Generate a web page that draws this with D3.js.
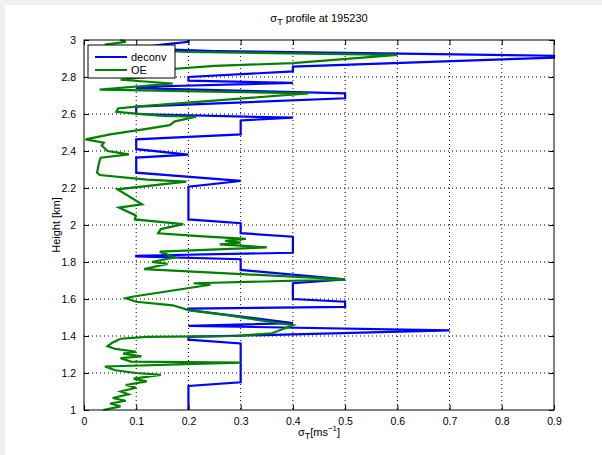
<!DOCTYPE html>
<html>
<head>
<meta charset="utf-8">
<script src="https://cdn.jsdelivr.net/npm/d3@7"></script>
<style>
  html, body { margin: 0; padding: 0; background: #eef0f4; }
  svg { display: block; }
  text { font-family: "Liberation Sans", Arial, Helvetica, sans-serif; fill: #000; }
</style>
</head>
<body>
<svg id="chart" width="602" height="455"></svg>
<script>
// ---- data (height in km, sigma_T in m/s) ----
const deconvHeights = [1.00,1.13,1.15,1.36,1.38,1.395,1.43,1.455,1.47,1.54,1.548,1.557,1.585,1.60,1.685,1.706,1.757,1.815,1.83,1.834,1.85,1.937,1.956,2.01,2.03,2.207,2.238,2.283,2.364,2.38,2.41,2.463,2.49,2.565,2.58,2.60,2.64,2.685,2.712,2.74,2.75,2.768,2.78,2.80,2.83,2.856,2.905,2.915,2.94,2.955,2.975,2.99,3.00];
const deconvValues  = [0.2,0.2,0.3,0.3,0.2,0.2,0.7,0.2,0.4,0.2,0.2,0.5,0.5,0.4,0.4,0.5,0.3,0.3,0.1,0.1,0.4,0.4,0.3,0.3,0.2,0.2,0.3,0.1,0.1,0.2,0.1,0.1,0.3,0.3,0.4,0.1,0.1,0.5,0.5,0.1,0.15,0.4,0.2,0.2,0.4,0.4,0.9,0.9,0.25,0.1,0.15,0.2,0.2];

const oeHeights = [1.00,1.02,1.035,1.05,1.065,1.085,1.10,1.12,1.135,1.155,1.17,1.19,1.20,1.215,1.235,1.256,1.262,1.28,1.29,1.305,1.315,1.33,1.345,1.365,1.385,1.395,1.40,1.415,1.458,1.51,1.54,1.566,1.585,1.604,1.612,1.677,1.685,1.706,1.762,1.79,1.80,1.825,1.856,1.879,1.895,1.905,1.915,1.925,1.94,1.955,1.978,2.005,2.03,2.052,2.094,2.112,2.193,2.234,2.245,2.27,2.283,2.35,2.364,2.382,2.40,2.43,2.445,2.463,2.49,2.52,2.54,2.56,2.585,2.59,2.612,2.63,2.64,2.712,2.732,2.765,2.785,2.80,2.82,2.835,2.86,2.875,2.92,2.935,2.95,2.965,2.975,2.99,3.00];
const oeValues  = [0.037,0.07,0.05,0.08,0.055,0.085,0.07,0.10,0.08,0.12,0.095,0.147,0.10,0.06,0.04,0.30,0.09,0.07,0.11,0.075,0.10,0.06,0.045,0.055,0.07,0.12,0.29,0.36,0.40,0.28,0.20,0.17,0.10,0.08,0.092,0.242,0.21,0.50,0.115,0.16,0.13,0.174,0.145,0.35,0.26,0.30,0.27,0.31,0.22,0.142,0.147,0.19,0.0975,0.099,0.067,0.111,0.064,0.196,0.12,0.03,0.025,0.03,0.032,0.086,0.045,0.034,0.038,0.003,0.05,0.12,0.164,0.174,0.215,0.15,0.062,0.065,0.10,0.43,0.03,0.17,0.07,0.12,0.08,0.13,0.25,0.40,0.60,0.20,0.07,0.05,0.04,0.08,0.07];

const xTickValues = [0,0.1,0.2,0.3,0.4,0.5,0.6,0.7,0.8,0.9];
const xTickLabels = ["0","0.1","0.2","0.3","0.4","0.5","0.6","0.7","0.8","0.9"];
const yTickValues = [1,1.2,1.4,1.6,1.8,2,2.2,2.4,2.6,2.8,3];
const yTickLabels = ["1","1.2","1.4","1.6","1.8","2","2.2","2.4","2.6","2.8","3"];
const seriesNames = ["deconv","OE"];
const seriesColors = ["#0000ff","#008000"];

// ---- layout ----
const svg = d3.select("#chart");
const L = 84, R = 554, T = 40, B = 410;

svg.append("rect").attr("x",5).attr("y",5).attr("width",597).attr("height",450).attr("fill","#ffffff");

const x = d3.scaleLinear().domain([0,0.9]).range([L,R]);
const y = d3.scaleLinear().domain([1,3]).range([B,T]);

// grid
const grid = svg.append("g");
xTickValues.slice(1,-1).forEach(v => {
  grid.append("line").attr("x1",x(v)).attr("x2",x(v)).attr("y1",T).attr("y2",B)
    .attr("stroke","#000").attr("stroke-width",1).attr("stroke-dasharray","1,3");
});
yTickValues.slice(1,-1).forEach(v => {
  grid.append("line").attr("x1",L).attr("x2",R).attr("y1",y(v)).attr("y2",y(v))
    .attr("stroke","#000").attr("stroke-width",1).attr("stroke-dasharray","1,3");
});

// series
const line = d3.line().x(d => x(d[0])).y(d => y(d[1]));
const deconv = deconvHeights.map((h,i) => [deconvValues[i], h]);
const oe = oeHeights.map((h,i) => [oeValues[i], h]);
const plotG = svg.append("g");
plotG.append("path").datum(deconv).attr("d",line).attr("fill","none")
  .attr("stroke",seriesColors[0]).attr("stroke-width",2.2).attr("stroke-linejoin","miter");
plotG.append("path").datum(oe).attr("d",line).attr("fill","none")
  .attr("stroke",seriesColors[1]).attr("stroke-width",2.2).attr("stroke-linejoin","miter");

// axes (ticks inside)
const tk = 5;
const xAxisB = d3.axisBottom(x).tickValues(xTickValues).tickFormat((d,i)=>xTickLabels[i]).tickSizeInner(-tk).tickSizeOuter(0).tickPadding(8);
const xAxisT = d3.axisTop(x).tickValues(xTickValues).tickFormat("").tickSizeInner(-tk).tickSizeOuter(0);
const yAxisL = d3.axisLeft(y).tickValues(yTickValues).tickFormat((d,i)=>yTickLabels[i]).tickSizeInner(-tk).tickSizeOuter(0).tickPadding(8);
const yAxisR = d3.axisRight(y).tickValues(yTickValues).tickFormat("").tickSizeInner(-tk).tickSizeOuter(0);

function styleAxis(g){
  g.select(".domain").remove();
  g.selectAll(".tick line").attr("stroke","#000");
  g.selectAll(".tick text").style("font-size","10.5px").style("font-family","'Liberation Sans', Arial, sans-serif").attr("fill","#000");
}
svg.append("g").attr("transform",`translate(0,${B})`).call(xAxisB).call(styleAxis);
svg.append("g").attr("transform",`translate(0,${T})`).call(xAxisT).call(styleAxis);
svg.append("g").attr("transform",`translate(${L},0)`).call(yAxisL).call(styleAxis);
svg.append("g").attr("transform",`translate(${R},0)`).call(yAxisR).call(styleAxis);

svg.append("rect").attr("x",L).attr("y",T).attr("width",R-L).attr("height",B-T)
  .attr("fill","none").attr("stroke","#000").attr("stroke-width",1);

// title
const title = svg.append("text").attr("x",(L+R)/2).attr("y",22).attr("text-anchor","middle").style("font-size","11px");
title.append("tspan").text("σ");
title.append("tspan").attr("dy",3).style("font-size","9px").text("T");
title.append("tspan").attr("dy",-3).text(" profile at 195230");

// x label
const xl = svg.append("text").attr("x",(L+R)/2).attr("y",436).attr("text-anchor","middle").style("font-size","11px");
xl.append("tspan").text("σ");
xl.append("tspan").attr("dy",3).style("font-size","9px").text("T");
xl.append("tspan").attr("dy",-3).text("[ms");
xl.append("tspan").attr("dy",-5).style("font-size","8px").text("−1");
xl.append("tspan").attr("dy",5).text("]");

// y label
svg.append("text").attr("transform",`translate(60,${(T+B)/2}) rotate(-90)`).attr("text-anchor","middle")
  .style("font-size","11px").text("Height [km]");

// legend
const lg = svg.append("g");
lg.append("rect").attr("x",88).attr("y",45).attr("width",87).attr("height",33).attr("fill","#fff").attr("stroke","#000").attr("stroke-width",1);
seriesNames.forEach((n,i) => {
  const yy = 57 + i*13;
  lg.append("line").attr("x1",95).attr("x2",127).attr("y1",yy).attr("y2",yy).attr("stroke",seriesColors[i]).attr("stroke-width",2);
  lg.append("text").attr("x",131).attr("y",yy+4).style("font-size","11px").text(n);
});
</script>
</body>
</html>
